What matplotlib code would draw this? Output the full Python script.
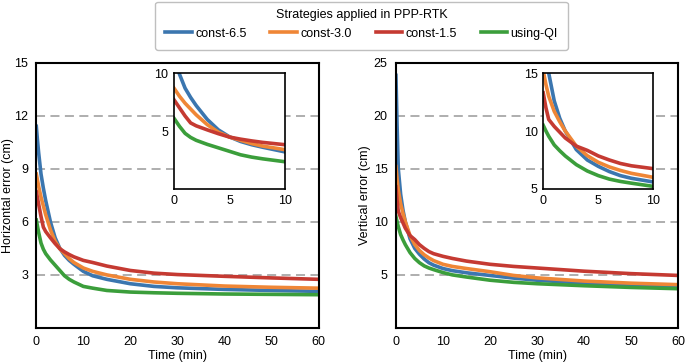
import matplotlib
matplotlib.use("Agg")
from matplotlib import pyplot as plt

plt.rcParams['font.family'] = ['Liberation Sans', 'DejaVu Sans']

# time axis (min)
times = [0, 0.25, 0.5, 1, 1.5, 2, 3, 4, 5, 6, 7, 8, 10, 12, 15, 20, 25, 30, 40, 50, 60]

labels = ['const-6.5', 'const-3.0', 'const-1.5', 'using-QI']
colors = ['#3b76af', '#ef8636', '#c53a32', '#3b9e3b']

# horizontal error (cm)
hor_c65 = [11.4, 10.6, 9.9, 8.7, 7.9, 7.2, 6.0, 5.1, 4.5, 4.1, 3.82, 3.6, 3.2, 2.95, 2.75, 2.5, 2.35, 2.27, 2.18, 2.12, 2.07]
hor_c30 = [8.7, 8.35, 8.0, 7.4, 6.9, 6.4, 5.55, 4.9, 4.48, 4.2, 3.92, 3.7, 3.39, 3.2, 3.0, 2.75, 2.6, 2.5, 2.37, 2.3, 2.25]
hor_c15 = [7.7, 7.35, 7.0, 6.3, 5.7, 5.45, 5.1, 4.77, 4.48, 4.3, 4.15, 4.02, 3.82, 3.7, 3.5, 3.25, 3.1, 3.02, 2.92, 2.83, 2.75]
hor_qi  = [6.1, 5.75, 5.4, 4.8, 4.45, 4.2, 3.85, 3.55, 3.25, 2.95, 2.75, 2.6, 2.35, 2.25, 2.12, 2.03, 1.99, 1.96, 1.92, 1.9, 1.88]

# vertical error (cm)
ver_c65 = [23.8, 19.0, 15.0, 12.6, 11.1, 10.0, 8.4, 7.5, 6.95, 6.5, 6.15, 5.92, 5.6, 5.4, 5.2, 4.95, 4.7, 4.5, 4.22, 4.02, 3.86]
ver_c30 = [15.2, 14.0, 13.0, 11.7, 10.8, 10.0, 8.7, 7.87, 7.3, 6.9, 6.6, 6.35, 6.0, 5.8, 5.6, 5.3, 4.95, 4.72, 4.42, 4.22, 4.08]
ver_c15 = [13.3, 12.0, 11.0, 10.4, 9.9, 9.4, 8.7, 8.33, 7.85, 7.5, 7.2, 7.0, 6.75, 6.55, 6.3, 6.0, 5.8, 5.65, 5.35, 5.12, 4.95]
ver_qi  = [10.5, 10.0, 9.55, 8.8, 8.3, 7.85, 7.1, 6.55, 6.15, 5.85, 5.65, 5.5, 5.22, 5.0, 4.8, 4.5, 4.3, 4.17, 3.98, 3.82, 3.7]

hor_series = [hor_c65, hor_c30, hor_c15, hor_qi]
ver_series = [ver_c65, ver_c30, ver_c15, ver_qi]

fig = plt.figure(figsize=(6.85, 3.62), dpi=100)

panels = [
    # main rect, inset rect, series, ylabel, label x, yticks, ymax, inset ylim, inset yticks
    ([0.053, 0.094, 0.412, 0.733], [0.254, 0.478, 0.162, 0.320], hor_series,
     'Horizontal error (cm)', -0.08, [3, 6, 9, 12, 15], 15, (0, 10), [5, 10]),
    ([0.578, 0.094, 0.412, 0.733], [0.793, 0.478, 0.161, 0.320], ver_series,
     'Vertical error (cm)', -0.09, [5, 10, 15, 20, 25], 25, (5, 15), [5, 10, 15]),
]

lines = []
for rect, inrect, series, ylabel, labx, yticks, ymax, inylim, inyticks in panels:
    ax = fig.add_axes(rect)
    for yv in yticks[:-1]:
        ax.axhline(yv, color='#a8a8a8', lw=1.3, ls=(0, (5, 3)), zorder=0)
    lines = []
    for vals, lab, col in zip(series, labels, colors):
        ln, = ax.plot(times, vals, color=col, lw=2.6, label=lab, zorder=2)
        lines.append(ln)
    ax.set_xlim(0, 60)
    ax.set_ylim(0, ymax)
    ax.set_xticks(range(0, 61, 10))
    ax.set_yticks(yticks)
    ax.tick_params(length=0, labelsize=9, pad=6)
    ax.set_xlabel('Time (min)', fontsize=9, labelpad=1)
    ax.set_ylabel(ylabel, fontsize=9)
    ax.yaxis.set_label_coords(labx, 0.5)
    for s in ax.spines.values():
        s.set_linewidth(1.5)

    ins = fig.add_axes(inrect)
    ins.set_facecolor('white')
    for vals, col in zip(series, colors):
        ins.plot(times, vals, color=col, lw=2.6)
    ins.set_xlim(0, 10)
    ins.set_ylim(*inylim)
    ins.set_xticks([0, 5, 10])
    ins.set_yticks(inyticks)
    ins.tick_params(length=0, labelsize=9, pad=4)
    for s in ins.spines.values():
        s.set_linewidth(1.2)

leg = fig.legend(handles=lines, labels=labels, loc='upper center', ncol=4,
                 bbox_to_anchor=(0.528, 1.012), fontsize=9,
                 title='Strategies applied in PPP-RTK', title_fontsize=9,
                 frameon=True, fancybox=True, edgecolor='#b0b0b0',
                 handlelength=2.1, handletextpad=0.3, columnspacing=1.9,
                 borderpad=0.8, labelspacing=0.3)
leg.get_frame().set_linewidth(1.0)
leg.get_title().set_position((0, 3))

fig.savefig('out.png', dpi=100)
